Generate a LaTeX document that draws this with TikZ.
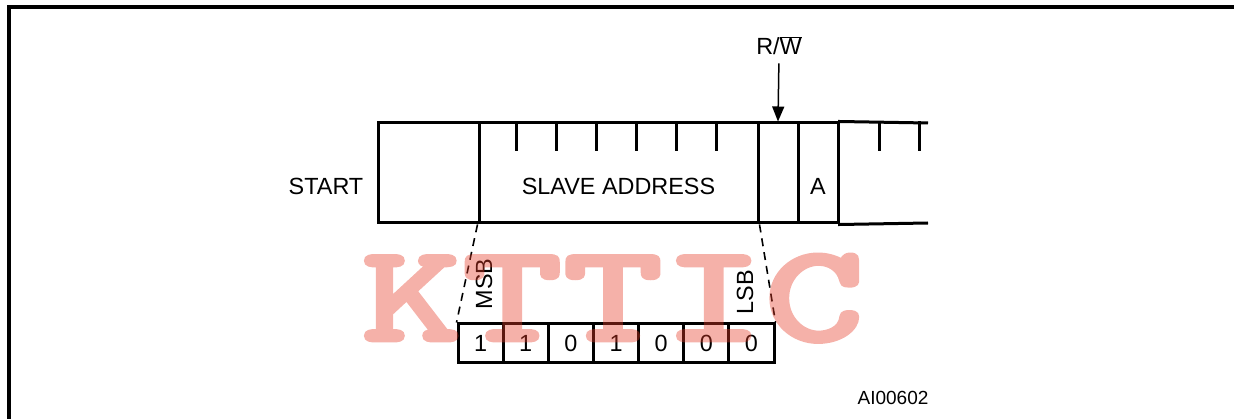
\documentclass[tikz,border=0pt]{standalone}
\usepackage{fontspec}
\setmainfont{Liberation Sans}
\newfontfamily\wmfont[FakeBold=2]{lmmonolt10-bold.otf}
\usetikzlibrary{arrows.meta}
\definecolor{wmred}{RGB}{230,60,40}
\begin{document}
\begin{tikzpicture}[x=1pt,y=-1pt,
  lbl/.style={font=\fontsize{23.4}{28}\selectfont, inner sep=0pt},
  cell/.style={draw, line width=3pt, minimum height=100pt, inner sep=0pt},
  bitcell/.style={draw, line width=3pt, minimum width=45.15pt, minimum height=39pt, inner sep=0pt, font=\fontsize{23.4}{28}\selectfont},
  tick/.style={line width=3pt},
  zoomline/.style={line width=1.6pt, dash pattern=on 8pt off 6pt},
  frame/.style={line width=3.2pt}]
\useasboundingbox (0,0) rectangle (1234,419);
% frame
\draw[frame] (9,419) -- (9,7) -- (1234,7);
% main bar cells
\node[cell, minimum width=101pt] (sc) at (428.5,173) {};
\node[cell, minimum width=279pt] (sa) at (618.5,173) {};
\node[cell, minimum width=40pt] (rw) at (778,173) {};
\node[cell, minimum width=40pt] (ack) at (818,173) {};
\node[lbl] (satext) at ([yshift=-13pt]sa.center) {SLAVE ADDRESS};
\node[lbl] (atext) at ([yshift=-13pt]ack.center) {A};
\coordinate (endtop) at (928,123);
\coordinate (endbot) at (928,223);
\draw[tick, shorten <=-1.5pt] (ack.north east) -- (endtop);
\draw[tick, shorten <=-1.5pt] (ack.south east) -- (endbot);
% ticks
\foreach \dx in {39,79,119,159,199,239}
  \draw[tick] ([xshift=\dx pt]sa.north west) -- ++(0,30);
\foreach \dx in {40,80}
  \draw[tick] ([xshift=\dx pt]ack.north east) -- ++(0,30);
% labels
\node[lbl] (start) at (326,186) {START};
\node[lbl] (rwlabel) at (779,46) {R/$\overline{\hbox{W}}$};
\draw[line width=1.5pt, shorten <=8pt, -{Triangle[length=15pt,width=12pt]}] (rwlabel.south) -- (rw.north);
% bits
\foreach \b [count=\i] in {1,1,0,1,0,0,0}
  \node[bitcell] (b\i) at ({458+45.15*(\i-0.5)},343.5) {\b};
\draw[zoomline] (sa.south west) -- (b1.north west);
\draw[zoomline] (sa.south east) -- (b7.north east);
\node[lbl, rotate=90] (msb) at (484,284) {MSB};
\node[lbl, rotate=90] (lsb) at (745,292) {LSB};
\node[font=\fontsize{19}{22}\selectfont, inner sep=0pt] (code) at (893,398) {AI00602};
% watermark
\begin{scope}[transparency group, opacity=0.4]
\begin{scope}[shift={(613,341)}, xscale=1.37]
\node[transform shape, anchor=base, inner sep=0pt, text=wmred,
  font=\wmfont\fontsize{140}{140}\selectfont] (wm) at (0,0) {KTTIC};
\end{scope}
\end{scope}
\end{tikzpicture}
\end{document}
